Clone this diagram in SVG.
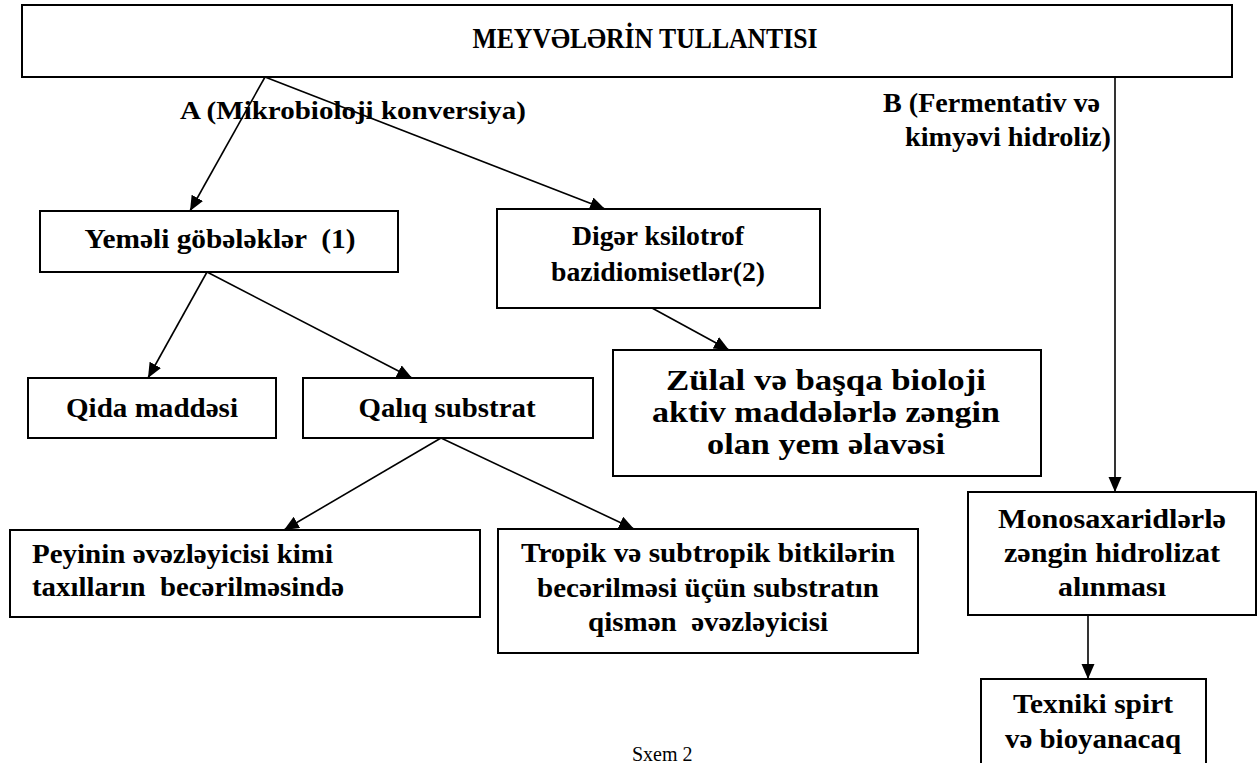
<svg xmlns="http://www.w3.org/2000/svg" width="1257" height="763" viewBox="0 0 1257 763" font-family="'Liberation Serif','Times New Roman',serif">
<style>
.box{fill:#fff;stroke:#000;stroke-width:2}
.t{font-weight:bold;fill:#000}
.c{text-anchor:middle}
.ln{stroke:#000;stroke-width:1.6;fill:none}
</style>
<defs>
<marker id="ah" markerUnits="userSpaceOnUse" markerWidth="18" markerHeight="14" refX="15" refY="6.5" orient="auto">
<path d="M0,0 L15,6.5 L0,13 Z" fill="#000"/>
</marker>
</defs>
<rect width="1257" height="763" fill="#fff"/>
<g id="connectors">
<line class="ln" x1="265" y1="77" x2="190" y2="211" marker-end="url(#ah)"/>
<line class="ln" x1="265" y1="77" x2="605" y2="209" marker-end="url(#ah)"/>
<line class="ln" x1="1115" y1="77" x2="1115" y2="492" marker-end="url(#ah)"/>
<line class="ln" x1="207" y1="272" x2="148" y2="378" marker-end="url(#ah)"/>
<line class="ln" x1="207" y1="272" x2="412" y2="378" marker-end="url(#ah)"/>
<line class="ln" x1="652" y1="308" x2="729" y2="350" marker-end="url(#ah)"/>
<line class="ln" x1="441" y1="438" x2="284" y2="530" marker-end="url(#ah)"/>
<line class="ln" x1="441" y1="438" x2="634" y2="529" marker-end="url(#ah)"/>
<line class="ln" x1="1088" y1="615" x2="1088" y2="679" marker-end="url(#ah)"/>
</g>
<g id="top">
<rect class="box" x="22" y="5" width="1210" height="72"/>
<text class="t c" x="645" y="48" font-size="29" textLength="345" lengthAdjust="spacingAndGlyphs">MEYVƏLƏRİN TULLANTISI</text>
</g>
<g id="labelA">
<text class="t" x="180" y="119" font-size="26" textLength="346" lengthAdjust="spacingAndGlyphs">A (Mikrobioloji konversiya)</text>
</g>
<g id="labelB">
<text class="t" x="883" y="112" font-size="27" textLength="217" lengthAdjust="spacingAndGlyphs">B (Fermentativ və</text>
<text class="t" x="905" y="146" font-size="27" textLength="206" lengthAdjust="spacingAndGlyphs">kimyəvi hidroliz)</text>
</g>
<g id="yemeli">
<rect class="box" x="40" y="211" width="358" height="61"/>
<text class="t c" x="220" y="248" font-size="27" textLength="271" lengthAdjust="spacingAndGlyphs" xml:space="preserve">Yeməli göbələklər  (1)</text>
</g>
<g id="diger">
<rect class="box" x="497" y="209" width="323" height="99"/>
<text class="t c" x="658" y="245" font-size="28" textLength="172" lengthAdjust="spacingAndGlyphs">Digər ksilotrof</text>
<text class="t c" x="658" y="281" font-size="28" textLength="214" lengthAdjust="spacingAndGlyphs">bazidiomisetlər(2)</text>
</g>
<g id="zulal">
<rect class="box" x="613" y="350" width="428" height="126"/>
<text class="t c" x="826" y="390" font-size="29" textLength="320" lengthAdjust="spacingAndGlyphs">Zülal və başqa bioloji</text>
<text class="t c" x="826" y="422" font-size="29" textLength="348" lengthAdjust="spacingAndGlyphs">aktiv maddələrlə zəngin</text>
<text class="t c" x="826" y="454" font-size="29" textLength="238" lengthAdjust="spacingAndGlyphs">olan yem əlavəsi</text>
</g>
<g id="qida">
<rect class="box" x="28" y="378" width="248" height="60"/>
<text class="t c" x="152" y="417" font-size="27" textLength="172" lengthAdjust="spacingAndGlyphs">Qida maddəsi</text>
</g>
<g id="qaliq">
<rect class="box" x="303" y="378" width="290" height="60"/>
<text class="t c" x="447" y="417" font-size="27" textLength="177" lengthAdjust="spacingAndGlyphs">Qalıq substrat</text>
</g>
<g id="peyinin">
<rect class="box" x="10" y="530" width="470" height="87"/>
<text class="t" x="32" y="563" font-size="27" textLength="301" lengthAdjust="spacingAndGlyphs">Peyinin əvəzləyicisi kimi</text>
<text class="t" x="32" y="596" font-size="27" textLength="312" lengthAdjust="spacingAndGlyphs" xml:space="preserve">taxılların  becərilməsində</text>
</g>
<g id="tropik">
<rect class="box" x="498" y="529" width="420" height="124"/>
<text class="t c" x="708" y="562" font-size="27" textLength="374" lengthAdjust="spacingAndGlyphs">Tropik və subtropik bitkilərin</text>
<text class="t c" x="708" y="597" font-size="27" textLength="342" lengthAdjust="spacingAndGlyphs">becərilməsi üçün substratın</text>
<text class="t c" x="708" y="631" font-size="27" textLength="240" lengthAdjust="spacingAndGlyphs" xml:space="preserve">qismən  əvəzləyicisi</text>
</g>
<g id="mono">
<rect class="box" x="968" y="492" width="288" height="123"/>
<text class="t c" x="1112" y="528" font-size="27" textLength="228" lengthAdjust="spacingAndGlyphs">Monosaxaridlərlə</text>
<text class="t c" x="1112" y="562" font-size="27" textLength="216" lengthAdjust="spacingAndGlyphs">zəngin hidrolizat</text>
<text class="t c" x="1112" y="596" font-size="27" textLength="108" lengthAdjust="spacingAndGlyphs">alınması</text>
</g>
<g id="texniki">
<rect class="box" x="981" y="679" width="225" height="100"/>
<text class="t c" x="1093" y="713" font-size="27" textLength="160" lengthAdjust="spacingAndGlyphs">Texniki spirt</text>
<text class="t c" x="1093" y="748" font-size="27" textLength="176" lengthAdjust="spacingAndGlyphs">və bioyanacaq</text>
</g>
<g id="caption">
<text x="632" y="761" font-size="20">Sxem 2</text>
</g>
</svg>
